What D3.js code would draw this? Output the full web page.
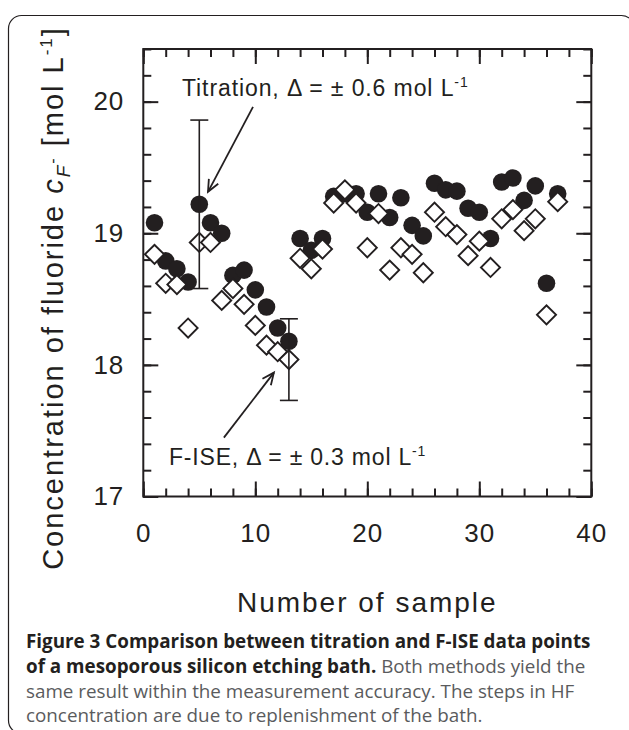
<!DOCTYPE html>
<html><head><meta charset="utf-8">
<script src="https://cdn.jsdelivr.net/npm/d3@7"></script>
<style>
html,body{margin:0;padding:0;background:#fff;}
svg{display:block;}
</style></head><body>
<svg id="c" width="629" height="730"></svg>
<script>
// ---- data ----
const samples   = [1,2,3,4,5,6,7,8,9,10,11,12,13,14,15,16,17,18,19,20,21,22,23,24,25,26,27,28,29,30,31,32,33,34,35,36,37];
const titration = [19.08,18.79,18.73,18.63,19.22,19.08,19.00,18.68,18.72,18.57,18.44,18.28,18.18,18.96,18.87,18.96,19.28,19.30,19.30,19.16,19.30,19.12,19.27,19.06,18.98,19.38,19.33,19.32,19.19,19.16,18.96,19.39,19.42,19.25,19.36,18.62,19.30];
const fise      = [18.84,18.62,18.61,18.28,18.93,18.93,18.49,18.58,18.46,18.30,18.15,18.10,18.04,18.81,18.73,18.88,19.23,19.33,19.23,18.89,19.15,18.72,18.89,18.84,18.70,19.16,19.05,18.99,18.83,18.94,18.74,19.11,19.18,19.02,19.11,18.38,19.24];
const errSamples = [5, 13];
const errLow     = [18.58, 17.73];
const errHigh    = [19.86, 18.35];
const xTicks = [0, 10, 20, 30, 40];
const yTicks = [17, 18, 19, 20];
const xTitle = "Number of sample";
const capLines = [
  [["b","Figure 3 Comparison between titration and F-ISE data points"]],
  [["b","of a mesoporous silicon etching bath."],["n"," Both methods yield the"]],
  [["n","same result within the measurement accuracy. The steps in HF"]],
  [["n","concentration are due to replenishment of the bath."]]
];

// ---- drawing ----
const ink = "#231f20";
const svg = d3.select("#c");
const L = 143.3, R = 591.3, T = 49, B = 496.5;
const x = d3.scaleLinear().domain([0, 40]).range([L, R]);
const y = d3.scaleLinear().domain([17, 20.4]).range([B, T]);
const font = "'Liberation Sans', Arial, Helvetica, sans-serif";

// outer rounded frame
svg.append("rect").attr("x", 8.5).attr("y", 15.5).attr("width", 626).attr("height", 718)
  .attr("rx", 13).attr("fill", "none").attr("stroke", ink).attr("stroke-width", 1.2);

function styleAxis(g) {
  g.select(".domain").remove();
  g.selectAll("line").attr("stroke", ink).attr("stroke-width", 2);
  g.selectAll("text").attr("fill", ink).style("font-family", font).style("font-size", "26px").style("letter-spacing", "1px");
}
const minorX = d3.range(0, 41, 2), minorY = d3.range(17, 20.41, 0.2);

svg.append("g").attr("transform", `translate(0,${B})`)
  .call(d3.axisBottom(x).tickValues(minorX).tickSize(-8).tickFormat("")).call(styleAxis);
svg.append("g").attr("transform", `translate(0,${B})`)
  .call(d3.axisBottom(x).tickValues(xTicks).tickSize(-15).tickPadding(27).tickFormat(d3.format("d"))).call(styleAxis);
svg.append("g").attr("transform", `translate(0,${T})`)
  .call(d3.axisTop(x).tickValues(minorX).tickSize(-8).tickFormat("")).call(styleAxis);
svg.append("g").attr("transform", `translate(0,${T})`)
  .call(d3.axisTop(x).tickValues(xTicks).tickSize(-15).tickFormat("")).call(styleAxis);
svg.append("g").attr("transform", `translate(${L},0)`)
  .call(d3.axisLeft(y).tickValues(minorY).tickSize(-8).tickFormat("")).call(styleAxis);
svg.append("g").attr("transform", `translate(${L},0)`)
  .call(d3.axisLeft(y).tickValues(yTicks).tickSize(-15).tickPadding(19).tickFormat(d3.format("d"))).call(styleAxis);
svg.append("g").attr("transform", `translate(${R},0)`)
  .call(d3.axisRight(y).tickValues(minorY).tickSize(-8).tickFormat("")).call(styleAxis);
svg.append("g").attr("transform", `translate(${R},0)`)
  .call(d3.axisRight(y).tickValues(yTicks).tickSize(-15).tickFormat("")).call(styleAxis);

svg.append("rect").attr("x", L).attr("y", T).attr("width", R - L).attr("height", B - T)
  .attr("fill", "none").attr("stroke", ink).attr("stroke-width", 2);

// titration (filled circles)
svg.append("g").selectAll("circle").data(samples).join("circle")
  .attr("cx", d => x(d)).attr("cy", (d, i) => y(titration[i])).attr("r", 8.8).attr("fill", ink);

// F-ISE (open diamonds)
const diamond = d3.symbol().type(d3.symbolSquare).size(182);
svg.append("g").selectAll("path").data(samples).join("path")
  .attr("d", diamond)
  .attr("transform", (d, i) => `translate(${x(d)},${y(fise[i])}) rotate(45)`)
  .attr("fill", "#fff").attr("stroke", ink).attr("stroke-width", 1.9);

// error bars
const eb = svg.append("g").attr("stroke", ink).attr("stroke-width", 1.6);
errSamples.forEach((s, i) => {
  eb.append("line").attr("x1", x(s)).attr("x2", x(s)).attr("y1", y(errLow[i])).attr("y2", y(errHigh[i]));
  [errLow[i], errHigh[i]].forEach(v => eb.append("line")
    .attr("x1", x(s) - 9).attr("x2", x(s) + 9).attr("y1", y(v)).attr("y2", y(v)));
});

// annotations
function arrow(x1, y1, x2, y2) {
  const g = svg.append("g").attr("stroke", ink).attr("stroke-width", 1.8).attr("fill", "none");
  g.append("line").attr("x1", x1).attr("y1", y1).attr("x2", x2).attr("y2", y2);
  const a = Math.atan2(y2 - y1, x2 - x1), h = 13, w = 0.42;
  g.append("path").attr("d",
    `M${x2 - h * Math.cos(a - w)},${y2 - h * Math.sin(a - w)}L${x2},${y2}L${x2 - h * Math.cos(a + w)},${y2 - h * Math.sin(a + w)}`);
}
const tT = { x: x(5) + 8.7, y: y(titration[4]) - 12.5 };
arrow(tT.x + 45, tT.y - 85, tT.x, tT.y);
const fT = { x: x(13) - 15, y: y(fise[12]) + 13 };
arrow(fT.x - 50, fT.y + 65, fT.x, fT.y);

function annot(px, py, main, sup, ls) {
  const t = svg.append("text").attr("x", px).attr("y", py).attr("fill", ink)
    .style("font-family", font).style("font-size", "23px").style("letter-spacing", ls + "px");
  t.append("tspan").text(main);
  t.append("tspan").attr("dy", -9).style("font-size", "14px").text(sup);
}
annot(182, 96, "Titration, \u0394 = \u00b1 0.6 mol L", "-1", 0.9);
annot(169, 465, "F-ISE, \u0394 = \u00b1 0.3 mol L", "-1", 0.8);

// axis titles
svg.append("text").attr("x", (L + R) / 2).attr("y", 612).attr("text-anchor", "middle")
  .attr("fill", ink).style("font-family", font).style("font-size", "28px").style("letter-spacing", "2px")
  .text(xTitle);

const yt = svg.append("text").attr("transform", "translate(63,298) rotate(-90)").attr("text-anchor", "middle")
  .attr("fill", ink).style("font-family", font).style("font-size", "29px").style("letter-spacing", "2px");
yt.append("tspan").text("Concentration of fluoride ");
yt.append("tspan").style("font-style", "italic").text("c");
yt.append("tspan").style("font-style", "italic").style("font-size", "19px").attr("dy", 7).text("F");
yt.append("tspan").style("font-size", "16px").attr("dy", -12).text("-");
yt.append("tspan").attr("dy", 5).text(" [mol L");
yt.append("tspan").style("font-size", "17px").attr("dy", -11).text("-1");
yt.append("tspan").attr("dy", 11).text("]");

// caption
const capFont = "'Open Sans', 'Noto Sans', sans-serif";
const capBase = [648, 673, 698, 722];
const capX = 26;
const texts = capLines.map((parts, li) => {
  const t = svg.append("text").attr("x", capX).attr("y", capBase[li]).style("font-family", capFont).style("font-size", "20px");
  parts.forEach(([k, s]) => t.append("tspan")
    .style("font-weight", k === "b" ? "700" : "400")
    .attr("fill", k === "b" ? ink : "#5a5b5d").text(s));
  return t;
});
// fit caption size so the first (bold) line spans the same width as in the figure
const w0 = texts[0].node().getComputedTextLength();
const fs = 20 * 565 / w0;
texts.forEach(t => t.style("font-size", fs + "px"));
</script>
</body></html>
